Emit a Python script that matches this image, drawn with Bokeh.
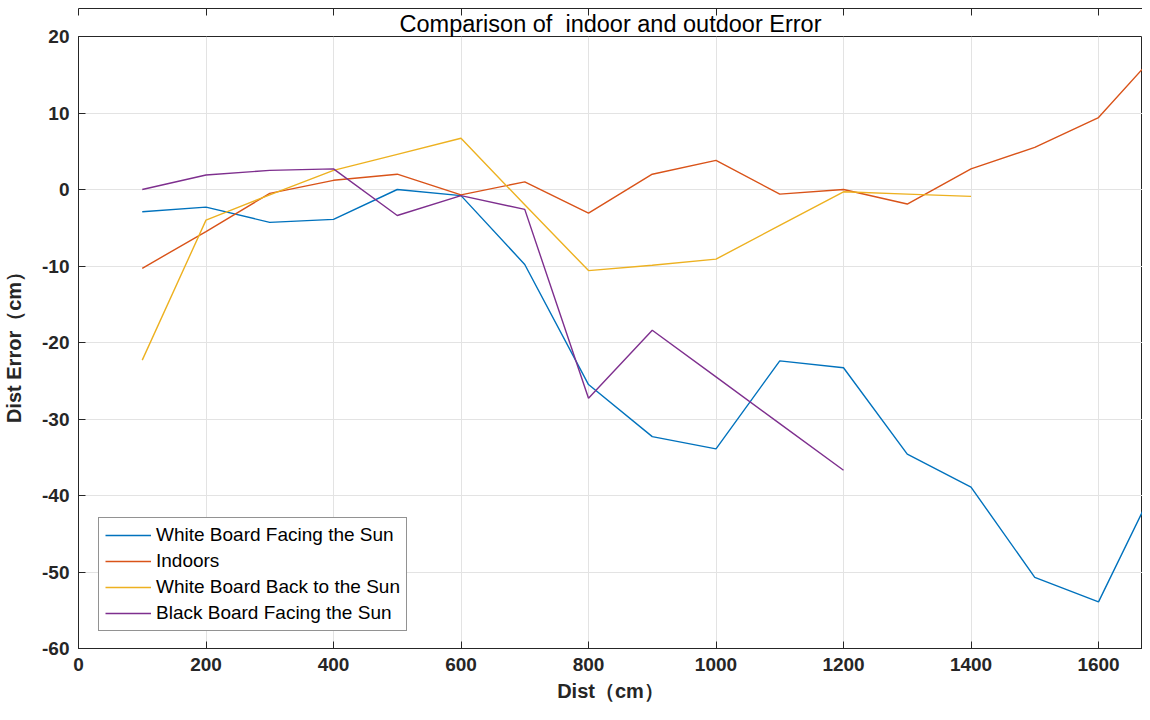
from bokeh.plotting import figure
from bokeh.models import LinearAxis, Legend, LegendItem, Range1d, FixedTicker, Title
from bokeh.embed import file_html
from bokeh.resources import INLINE

dist = [100, 200, 300, 400, 500, 600, 700, 800, 900, 1000, 1100, 1200, 1300, 1400, 1500, 1600, 1700]
white_facing = [-2.9, -2.3, -4.3, -3.9, 0.0, -0.8, -9.8, -25.5, -32.3, -33.9, -22.4, -23.3, -34.6, -38.9, -50.7, -53.9, -36.8]
indoors = [-10.3, -5.5, -0.5, 1.2, 2.0, -0.7, 1.0, -3.1, 2.0, 3.8, -0.6, 0.0, -1.9, 2.7, 5.5, 9.4, 18.6]
dist_back = [100, 200, 300, 400, 500, 600, 700, 800, 900, 1000, 1100, 1200, 1300, 1400]
white_back = [-22.3, -4.0, -0.7, 2.5, 4.6, 6.7, -2.0, -10.6, -9.9, -9.1, -4.7, -0.3, -0.6, -0.9]
dist_black = [100, 200, 300, 400, 500, 600, 700, 800, 900, 1000, 1100, 1200]
black_facing = [0.0, 1.9, 2.5, 2.7, -3.4, -0.8, -2.6, -27.3, -18.4, -24.5, -30.6, -36.7]

names = ["White Board Facing the Sun", "Indoors", "White Board Back to the Sun", "Black Board Facing the Sun"]
colors = ["#0072BD", "#D95319", "#EDB120", "#7E2F8E"]

x_ticks = [0, 200, 400, 600, 800, 1000, 1200, 1400, 1600]
y_ticks = [20, 10, 0, -10, -20, -30, -40, -50, -60]
y_tick_labels = {t: str(t) for t in y_ticks}

FONT = "Liberation Sans"

p = figure(width=1142, height=704, output_backend="svg", toolbar_location=None,
           x_range=Range1d(0, 1669), y_range=Range1d(-60, 20),
           min_border_left=0, min_border_right=0, min_border_top=2, min_border_bottom=0)
p.title = None
p.add_layout(Title(text="Comparison of\u00a0\u00a0indoor and outdoor Error", align="center",
                   text_font=FONT, text_font_size="23.5px", text_font_style="normal",
                   text_color="#000000", standoff=0), "above")

p.background_fill_color = "white"
p.outline_line_color = "#262626"
p.outline_line_width = 1

for ax in (p.xaxis[0], p.yaxis[0]):
    ax.major_tick_in = 7
    ax.major_tick_out = 0
    ax.minor_tick_line_color = None
    ax.axis_line_color = "#262626"
    ax.major_tick_line_color = "#262626"
    ax.major_label_text_font = FONT
    ax.major_label_text_font_style = "bold"
    ax.major_label_text_font_size = "19px"
    ax.major_label_text_color = "#262626"
    ax.axis_label_text_font = FONT
    ax.axis_label_text_font_style = "bold"
    ax.axis_label_text_font_size = "20px"
    ax.axis_label_text_color = "#262626"

p.xaxis[0].ticker = FixedTicker(ticks=x_ticks)
p.yaxis[0].ticker = FixedTicker(ticks=y_ticks)
p.yaxis[0].major_label_overrides = y_tick_labels
p.xaxis[0].axis_label = "Dist（cm）"
p.yaxis[0].axis_label = "Dist Error（cm）"
p.xaxis[0].major_label_standoff = 9
p.yaxis[0].major_label_standoff = 9
p.xaxis[0].axis_label_standoff = 6
p.yaxis[0].axis_label_standoff = 14

top = LinearAxis(ticker=FixedTicker(ticks=x_ticks), major_tick_in=7, major_tick_out=0,
                 minor_tick_line_color=None, axis_line_color="#262626",
                 major_tick_line_color="#262626",
                 major_label_overrides={t: " " for t in x_ticks},
                 major_label_text_font_size="4px", major_label_standoff=0)
p.add_layout(top, "above")

p.xgrid.ticker = FixedTicker(ticks=x_ticks)
p.ygrid.ticker = FixedTicker(ticks=y_ticks)
p.grid.grid_line_color = "#e3e3e3"
p.grid.grid_line_width = 1

r1 = p.line(dist, white_facing, line_color=colors[0], line_width=1.4)
r2 = p.line(dist, indoors, line_color=colors[1], line_width=1.4)
r3 = p.line(dist_back, white_back, line_color=colors[2], line_width=1.4)
r4 = p.line(dist_black, black_facing, line_color=colors[3], line_width=1.4)

legend = Legend(items=[LegendItem(label=n, renderers=[r]) for n, r in zip(names, [r1, r2, r3, r4])],
                location=(20, 17), label_text_font=FONT, label_text_font_size="19px",
                label_text_color="#000000", glyph_width=46, glyph_height=20,
                label_height=20, spacing=4, padding=6, margin=0,
                border_line_color="#262626", border_line_width=1,
                background_fill_color="white", background_fill_alpha=1)
p.add_layout(legend, "center")

open("out.html", "w").write(file_html(p, INLINE))
